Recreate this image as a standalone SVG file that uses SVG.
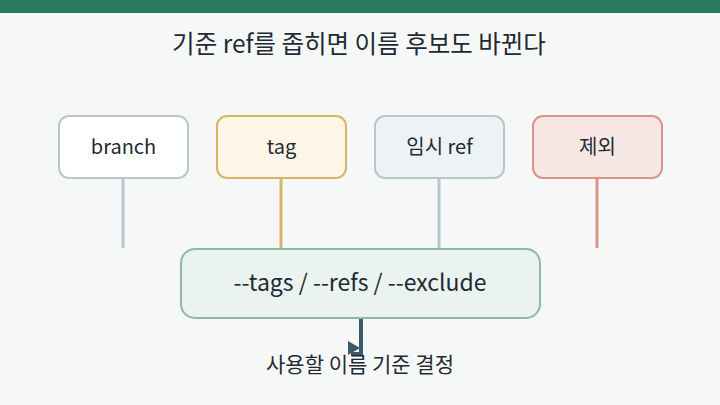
<svg xmlns="http://www.w3.org/2000/svg" width="720" height="405" viewBox="0 0 720 405">
<style>
text{font-family:"Noto Sans CJK KR","Noto Sans",sans-serif;fill:#1f2a33;text-anchor:middle}
.n{stroke-width:2}
.lbl{font-size:20px}
</style>
<rect width="720" height="405" fill="#f6f8f7"/>
<rect width="720" height="13" fill="#2b7a62"/>
<text x="359" y="53" font-size="24.5">기준 ref를 좁히면 이름 후보도 바뀐다</text>
<g id="connectors" fill="none" stroke-width="3">
<line x1="123" y1="179" x2="123" y2="248" stroke="#b7c7d0"/>
<line x1="281" y1="179" x2="281" y2="248" stroke="#d9b466"/>
<line x1="439" y1="179" x2="439" y2="248" stroke="#b7c7d0"/>
<line x1="597" y1="179" x2="597" y2="248" stroke="#d9958a"/>
<path d="M361 318 V354 H351" stroke="#3c5a66" stroke-width="4"/>
<polygon points="348,341 360,348 348,355" fill="#3c5a66" stroke="none"/>
</g>
<g id="branch"><rect class="n" x="59" y="116" width="129" height="62" rx="10" fill="#ffffff" stroke="#b7c7d0"/><text class="lbl" x="123.5" y="154">branch</text></g>
<g id="tag"><rect class="n" x="217" y="116" width="129" height="62" rx="10" fill="#fdf6e7" stroke="#d9b466"/><text class="lbl" x="281.5" y="154">tag</text></g>
<g id="tempref"><rect class="n" x="375" y="116" width="129" height="62" rx="10" fill="#edf2f5" stroke="#b7c7d0"/><text class="lbl" x="439.5" y="154">임시 ref</text></g>
<g id="exclude"><rect class="n" x="533" y="116" width="129" height="62" rx="10" fill="#f6e6e4" stroke="#d9958a"/><text class="lbl" x="597.5" y="154">제외</text></g>
<g id="options"><rect class="n" x="181" y="249" width="359" height="69" rx="14" fill="#eaf3ef" stroke="#8ab9a5"/><text x="360" y="291" font-size="23">--tags / --refs / --exclude</text></g>
<text x="360" y="372" font-size="21">사용할 이름 기준 결정</text>
</svg>
